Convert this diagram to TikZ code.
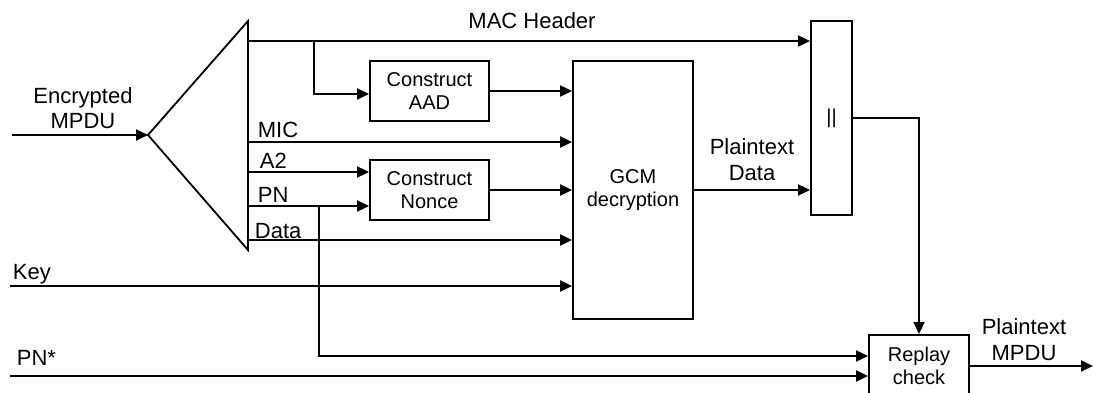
\documentclass[tikz,border=0pt]{standalone}
\usepackage{fontspec}
\setmainfont{Liberation Sans}
\usetikzlibrary{arrows.meta}
\begin{document}
\begin{tikzpicture}[x=1pt,y=-1pt, line width=1.8pt,
  >={Triangle[length=12pt,width=11pt]},
  blk/.style={draw, line width=1.8pt, inner sep=0pt, align=center, font=\fontsize{20}{23}\selectfont},
  lbl/.style={inner sep=0pt, font=\fontsize{22}{25.5}\selectfont, align=center}]
\useasboundingbox (0,0) rectangle (1093,393);
\clip (0,0) rectangle (1093,393);

% blocks
\node[blk, minimum width=119pt, minimum height=60pt] (aad) at (429.5,91) {Construct\\AAD};
\node[blk, minimum width=119pt, minimum height=60pt] (nonce) at (429.5,190) {Construct\\Nonce};
\node[blk, minimum width=120pt, minimum height=258pt] (gcm) at (633,190) {GCM\\decryption};
\node[blk, minimum width=41pt, minimum height=194pt] (cc) at (831.5,118) {||};
\node[blk, minimum width=100pt, minimum height=62pt] (rc) at (919,366) {Replay\\check};

% splitter triangle
\coordinate (apex) at (148,135);
\coordinate (ttop) at (248,21);
\coordinate (tbot) at (248,250);
\draw (ttop) -- (apex) -- (tbot) -- cycle;

% ports
\coordinate (pHdr) at (248,41);
\coordinate (pMIC) at (248,142);
\coordinate (pA2) at (248,172);
\coordinate (pPN) at (248,206);
\coordinate (pData) at (248,240);
\coordinate (inEnc) at (12,135);
\coordinate (inKey) at (10,286);
\coordinate (inPN) at (10,376);
\coordinate (outP) at (1093,366);
\coordinate (br1) at (314,41);
\coordinate (br2) at (319,206);

% connectors
\draw[->] (inEnc) -- (apex);
\draw[->] (pHdr) -- (pHdr -| cc.west);
\draw[->] (br1) |- ([yshift=-3pt]aad.west);
\draw[->] (aad.east) -- (aad.east -| gcm.west);
\draw[->] (pMIC) -- (pMIC -| gcm.west);
\draw[->] (pA2) -- (pA2 -| nonce.west);
\draw[->] (pPN) -- (pPN -| nonce.west);
\draw[->] (nonce.east) -- (nonce.east -| gcm.west);
\draw[->] (pData) -- (pData -| gcm.west);
\draw[->] (inKey) -- (inKey -| gcm.west);
\draw[->] (gcm.east) -- (gcm.east -| cc.west);
\draw[->] (cc.east) -| (rc.north);
\draw[->] (br2) |- ([yshift=10pt]rc.west);
\draw[->] (inPN) -- (inPN -| rc.west);
\draw[->] (rc.east) -- (outP);

% labels
\node[lbl, anchor=base] (tHdr) at (532,29) {MAC Header};
\node[lbl] (tEnc) at (83,108) {Encrypted\\MPDU};
\node[lbl, anchor=base west] (tMIC) at (257,138) {MIC};
\node[lbl, anchor=base west] (tA2) at (259,168) {A2};
\node[lbl, anchor=base west] (tPN) at (257,203) {PN};
\node[lbl, anchor=base west] (tData) at (254,238) {Data};
\node[lbl, anchor=base west] (tKey) at (12,279) {Key};
\node[lbl, anchor=base west] (tPNs) at (16,365) {PN*};
\node[lbl] (tPD) at (752,159.5) {Plaintext\\Data};
\node[lbl] (tPM) at (1024,339.5) {Plaintext\\MPDU};
\end{tikzpicture}
\end{document}
